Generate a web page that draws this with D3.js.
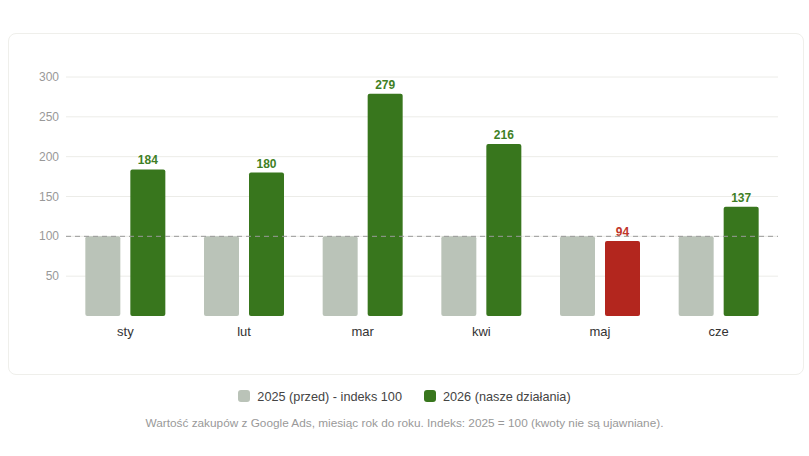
<!DOCTYPE html>
<html>
<head>
<meta charset="utf-8">
<script src="https://cdn.jsdelivr.net/npm/d3@7"></script>
<style>
  body { margin: 0; background: #fff; font-family: "Liberation Sans", Arial, sans-serif; }
  #card { position: absolute; left: 8px; top: 33px; width: 794px; height: 340px;
          border: 1px solid #efefeb; border-radius: 8px; background: #fff; }
  #legend { position: absolute; top: 390px; left: 0; width: 809px; text-align: center;
            font-size: 12.7px; color: #444; }
  .item { display: inline-block; margin: 0 11px; }
  .sw { display: inline-block; width: 12px; height: 12px; border-radius: 3px;
        vertical-align: -1px; margin-right: 7px; }
  #note { position: absolute; top: 416px; left: 0; width: 809px; text-align: center;
          font-size: 11.8px; color: #999; }
</style>
</head>
<body>
<div id="card"></div>
<svg id="chart" width="809" height="380" style="position:absolute;left:0;top:0"></svg>
<div id="legend"></div>
<div id="note">Wartość zakupów z Google Ads, miesiąc rok do roku. Indeks: 2025 = 100 (kwoty nie są ujawniane).</div>
<script>
var months = ["sty", "lut", "mar", "kwi", "maj", "cze"];
var values2025 = [100, 100, 100, 100, 100, 100];
var values2026 = [184, 180, 279, 216, 94, 137];
var yTicks = [50, 100, 150, 200, 250, 300];
var seriesNames = ["2025 (przed) - indeks 100", "2026 (nasze działania)"];

var col2025 = "#bac3b8", colUp = "#38761d", colDown = "#b3261e";

var svg = d3.select("#chart");
var margin = { left: 66, right: 31 };
var x = d3.scaleBand().domain(months).range([margin.left, 809 - margin.right]);
var y = d3.scaleLinear().domain([0, 300]).range([316, 77]);

// grid
svg.append("g").selectAll("line").data(yTicks).enter().append("line")
    .attr("x1", x.range()[0]).attr("x2", x.range()[1])
    .attr("y1", function(d) { return y(d); }).attr("y2", function(d) { return y(d); })
    .attr("stroke", "#ecece8").attr("stroke-width", 1);

svg.append("g").selectAll("text").data(yTicks).enter().append("text")
    .attr("x", 59).attr("y", function(d) { return y(d) + 4; })
    .attr("text-anchor", "end").attr("font-size", 12).attr("fill", "#999")
    .text(function(d) { return d; });

var barW = 35, gap = 10;
var groupW = barW * 2 + gap;
function groupStart(m) { return x(m) + (x.bandwidth() - groupW) / 2; }

var data = months.map(function(m, i) { return { m: m, a: values2025[i], b: values2026[i] }; });

svg.append("g").selectAll("rect").data(data).enter().append("rect")
    .attr("x", function(d) { return groupStart(d.m); })
    .attr("y", function(d) { return y(d.a); })
    .attr("width", barW).attr("height", function(d) { return y(0) - y(d.a); })
    .attr("rx", 2).attr("fill", col2025);

svg.append("g").selectAll("rect").data(data).enter().append("rect")
    .attr("x", function(d) { return groupStart(d.m) + barW + gap; })
    .attr("y", function(d) { return y(d.b); })
    .attr("width", barW).attr("height", function(d) { return y(0) - y(d.b); })
    .attr("rx", 2).attr("fill", function(d) { return d.b < 100 ? colDown : colUp; });

svg.append("g").selectAll("text").data(data).enter().append("text")
    .attr("x", function(d) { return groupStart(d.m) + barW + gap + barW / 2; })
    .attr("y", function(d) { return y(d.b) - 5; })
    .attr("text-anchor", "middle").attr("font-size", 12).attr("font-weight", "bold")
    .attr("fill", function(d) { return d.b < 100 ? "#c0362a" : "#3f7f25"; })
    .text(function(d) { return d.b; });

// baseline at 100
svg.append("line")
    .attr("x1", x.range()[0]).attr("x2", x.range()[1])
    .attr("y1", y(100)).attr("y2", y(100))
    .attr("stroke", "#999").attr("stroke-dasharray", "5,4");

svg.append("g").selectAll("text").data(months).enter().append("text")
    .attr("x", function(d) { return x(d) + x.bandwidth() / 2; })
    .attr("y", 336).attr("text-anchor", "middle")
    .attr("font-size", 13).attr("fill", "#333")
    .text(function(d) { return d; });

// legend
var lg = d3.select("#legend").selectAll("span.item").data(seriesNames).enter()
    .append("span").attr("class", "item");
lg.append("span").attr("class", "sw")
    .style("background", function(d, i) { return i == 0 ? col2025 : colUp; });
lg.append("span").text(function(d) { return d; });
</script>
</body>
</html>
